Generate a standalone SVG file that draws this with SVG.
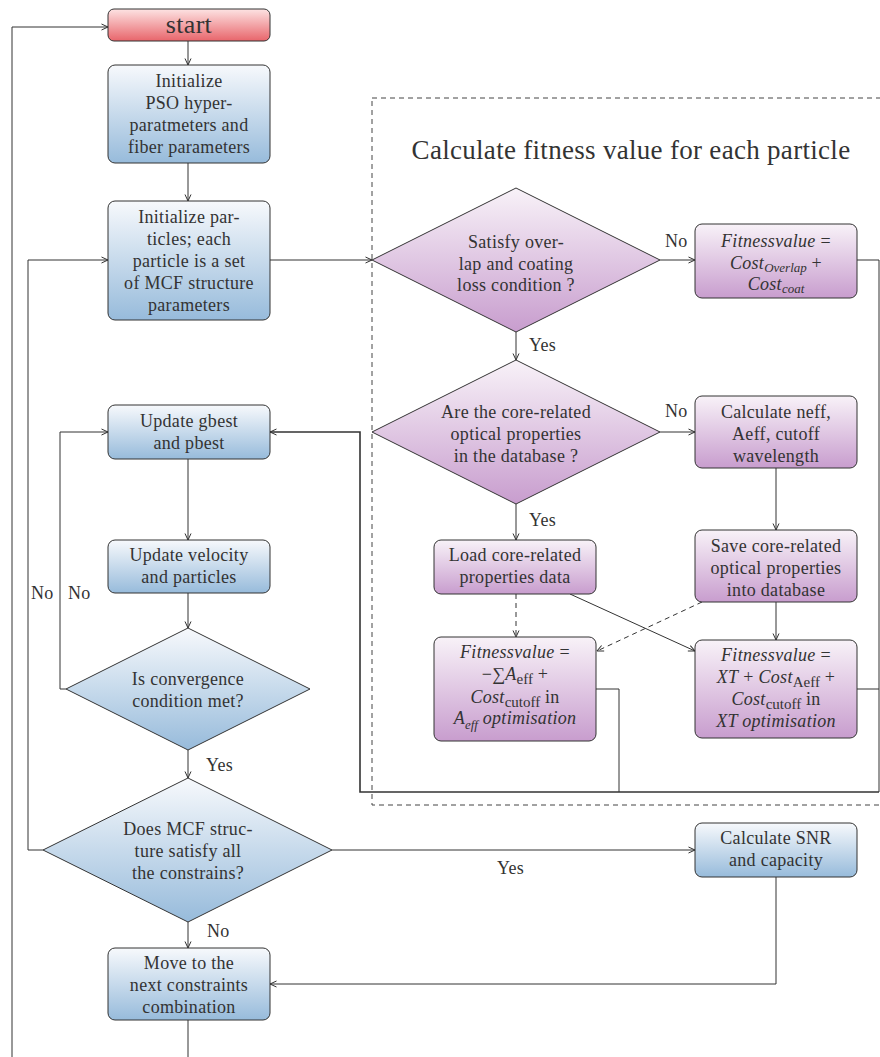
<svg xmlns="http://www.w3.org/2000/svg" width="880" height="1057" viewBox="0 0 880 1057">
<defs>
<linearGradient id="gBlue" x1="0" y1="0" x2="0" y2="1"><stop offset="0" stop-color="#f7f9fc"/><stop offset="1" stop-color="#97bbdb"/></linearGradient>
<linearGradient id="gPurple" x1="0" y1="0" x2="0" y2="1"><stop offset="0" stop-color="#f8f2f8"/><stop offset="1" stop-color="#c89dce"/></linearGradient>
<linearGradient id="gRed" x1="0" y1="0" x2="0" y2="1"><stop offset="0" stop-color="#fde3e3"/><stop offset="1" stop-color="#e8656b"/></linearGradient>
<marker id="arr" viewBox="0 0 8 8" refX="7.5" refY="4" markerWidth="8" markerHeight="8" markerUnits="userSpaceOnUse" orient="auto">
<path d="M1,1 L7.5,4 L1,7" fill="none" stroke="#333" stroke-width="1"/>
</marker>
<style>
.box{stroke:#333;stroke-width:1}
.c{fill:none;stroke:#333;stroke-width:1}
.ca{fill:none;stroke:#333;stroke-width:1;marker-end:url(#arr)}
</style>
</defs>
<g font-family="Times New Roman" font-size="18" text-anchor="middle" letter-spacing="0.3">
<rect x="372" y="98" width="530" height="707" fill="none" stroke="#444" stroke-width="1" stroke-dasharray="5,4"/>
<text font-family="Times New Roman" fill="#333" x="631" y="159" font-size="27">Calculate fitness value for each particle</text>

<g id="connectors">
<line class="ca" x1="188" y1="41" x2="188" y2="65"/>
<line class="ca" x1="188" y1="163" x2="188" y2="201"/>
<line class="ca" x1="270" y1="260" x2="372" y2="260"/>
<line class="ca" x1="660" y1="260" x2="695" y2="260"/>
<line class="ca" x1="516" y1="332" x2="516" y2="360"/>
<line class="ca" x1="660" y1="432" x2="695" y2="432"/>
<line class="ca" x1="776" y1="468" x2="776" y2="530"/>
<line class="ca" x1="516" y1="504" x2="516" y2="540"/>
<line class="ca" stroke-dasharray="5,4" x1="516" y1="594" x2="516" y2="637"/>
<line class="ca" x1="570" y1="594" x2="695" y2="651"/>
<line class="ca" stroke-dasharray="5,4" x1="702" y1="602" x2="597" y2="651"/>
<line class="ca" x1="776" y1="602" x2="776" y2="640"/>
<polyline class="c" points="857,260 879,260 879,792"/>
<polyline class="c" points="857,689 879,689"/>
<polyline class="c" points="596,689 619,689 619,792"/>
<polyline class="ca" style="stroke-width:1.6" points="879,792 360,792 360,432 270,432"/>
<line class="ca" x1="188" y1="459" x2="188" y2="540"/>
<line class="ca" x1="188" y1="593" x2="188" y2="628"/>
<line class="ca" x1="188" y1="750" x2="188" y2="778"/>
<polyline class="ca" points="66,689 60,689 60,432 108,432"/>
<polyline class="ca" points="43,850 28,850 28,260 108,260"/>
<line class="ca" x1="332" y1="850" x2="695" y2="850"/>
<polyline class="ca" points="776,877 776,984 270,984"/>
<line class="ca" x1="188" y1="922" x2="188" y2="948"/>
<line class="c" x1="188" y1="1020" x2="188" y2="1057"/>
<polyline class="ca" points="12,1057 12,27 108,27"/>
<g fill="#333" text-anchor="start">
<text font-family="Times New Roman" x="665" y="247">No</text>
<text font-family="Times New Roman" x="529" y="351">Yes</text>
<text font-family="Times New Roman" x="665" y="417">No</text>
<text font-family="Times New Roman" x="529" y="526">Yes</text>
<text font-family="Times New Roman" x="31" y="599">No</text>
<text font-family="Times New Roman" x="68" y="599">No</text>
<text font-family="Times New Roman" x="206" y="771">Yes</text>
<text font-family="Times New Roman" x="497" y="874">Yes</text>
<text font-family="Times New Roman" x="207" y="937">No</text>
</g>
</g>

<g id="start" fill="#333">
<rect class="box" fill="url(#gRed)" x="108" y="9" width="162" height="32" rx="6"/>
<text font-family="Times New Roman" x="189" y="33" font-size="26">start</text>
</g>

<g id="init-pso" fill="#333">
<rect class="box" fill="url(#gBlue)" x="108" y="65" width="162" height="98" rx="7"/>
<text font-family="Times New Roman" x="189" y="87">Initialize</text>
<text font-family="Times New Roman" x="189" y="109">PSO hyper-</text>
<text font-family="Times New Roman" x="189" y="131">paratmeters and</text>
<text font-family="Times New Roman" x="189" y="153">fiber parameters</text>
</g>

<g id="init-particles" fill="#333">
<rect class="box" fill="url(#gBlue)" x="108" y="201" width="162" height="119" rx="7"/>
<text font-family="Times New Roman" x="189" y="223">Initialize par-</text>
<text font-family="Times New Roman" x="189" y="245">ticles; each</text>
<text font-family="Times New Roman" x="189" y="267">particle is a set</text>
<text font-family="Times New Roman" x="189" y="289">of MCF structure</text>
<text font-family="Times New Roman" x="189" y="311">parameters</text>
</g>

<g id="d-overlap" fill="#333">
<polygon class="box" fill="url(#gPurple)" stroke-linejoin="round" points="516,188 660,260 516,332 372,260"/>
<text font-family="Times New Roman" x="516" y="248">Satisfy over-</text>
<text font-family="Times New Roman" x="516" y="270">lap and coating</text>
<text font-family="Times New Roman" x="516" y="291">loss condition ?</text>
</g>

<g id="fit-overlap" fill="#333">
<rect class="box" fill="url(#gPurple)" x="695" y="224" width="162" height="74" rx="7"/>
<text font-family="Times New Roman" x="776" y="247"><tspan font-style="italic">Fitnessvalue</tspan> =</text>
<text font-family="Times New Roman" x="776" y="269"><tspan font-style="italic">Cost</tspan><tspan font-style="italic" font-size="13" letter-spacing="0" dy="3">Overlap</tspan><tspan dy="-3"> +</tspan></text>
<text font-family="Times New Roman" x="776" y="290"><tspan font-style="italic">Cost</tspan><tspan font-style="italic" font-size="13" letter-spacing="0" dy="3">coat</tspan></text>
</g>

<g id="d-database" fill="#333">
<polygon class="box" fill="url(#gPurple)" stroke-linejoin="round" points="516,360 660,432 516,504 372,432"/>
<text font-family="Times New Roman" x="516" y="418">Are the core-related</text>
<text font-family="Times New Roman" x="516" y="440">optical properties</text>
<text font-family="Times New Roman" x="516" y="462">in the database ?</text>
</g>

<g id="calc-neff" fill="#333">
<rect class="box" fill="url(#gPurple)" x="695" y="396" width="162" height="72" rx="7"/>
<text font-family="Times New Roman" x="776" y="418">Calculate neff,</text>
<text font-family="Times New Roman" x="776" y="440">Aeff, cutoff</text>
<text font-family="Times New Roman" x="776" y="462">wavelength</text>
</g>

<g id="save-core" fill="#333">
<rect class="box" fill="url(#gPurple)" x="695" y="530" width="162" height="72" rx="7"/>
<text font-family="Times New Roman" x="776" y="552">Save core-related</text>
<text font-family="Times New Roman" x="776" y="574">optical properties</text>
<text font-family="Times New Roman" x="776" y="596">into database</text>
</g>

<g id="load-core" fill="#333">
<rect class="box" fill="url(#gPurple)" x="434" y="540" width="162" height="54" rx="7"/>
<text font-family="Times New Roman" x="515" y="561">Load core-related</text>
<text font-family="Times New Roman" x="515" y="583">properties data</text>
</g>

<g id="fit-aeff" fill="#333">
<rect class="box" fill="url(#gPurple)" x="434" y="637" width="162" height="104" rx="7"/>
<text font-family="Times New Roman" x="515" y="658"><tspan font-style="italic">Fitnessvalue</tspan> =</text>
<text font-family="Times New Roman" x="515" y="680">−∑<tspan font-style="italic">A</tspan><tspan font-size="15" letter-spacing="0" dy="4">eff</tspan><tspan dy="-4"> +</tspan></text>
<text font-family="Times New Roman" x="515" y="703"><tspan font-style="italic">Cost</tspan><tspan font-size="15" letter-spacing="0" dy="4">cutoff</tspan><tspan dy="-4"> in</tspan></text>
<text font-family="Times New Roman" x="515" y="724"><tspan font-style="italic">A</tspan><tspan font-style="italic" font-size="13" letter-spacing="0" dy="5">eff</tspan><tspan font-style="italic" dy="-5"> optimisation</tspan></text>
</g>

<g id="fit-xt" fill="#333">
<rect class="box" fill="url(#gPurple)" x="695" y="640" width="162" height="98" rx="7"/>
<text font-family="Times New Roman" x="776" y="661"><tspan font-style="italic">Fitnessvalue</tspan> =</text>
<text font-family="Times New Roman" x="776" y="683"><tspan font-style="italic">XT</tspan> + <tspan font-style="italic">Cost</tspan><tspan font-size="15" letter-spacing="0" dy="4">Aeff</tspan><tspan dy="-4"> +</tspan></text>
<text font-family="Times New Roman" x="776" y="705"><tspan font-style="italic">Cost</tspan><tspan font-size="15" letter-spacing="0" dy="4">cutoff</tspan><tspan dy="-4"> in</tspan></text>
<text font-family="Times New Roman" x="776" y="727" font-style="italic">XT optimisation</text>
</g>

<g id="update-gbest" fill="#333">
<rect class="box" fill="url(#gBlue)" x="108" y="405" width="162" height="54" rx="7"/>
<text font-family="Times New Roman" x="189" y="427">Update gbest</text>
<text font-family="Times New Roman" x="189" y="449">and pbest</text>
</g>

<g id="update-velocity" fill="#333">
<rect class="box" fill="url(#gBlue)" x="108" y="540" width="162" height="53" rx="7"/>
<text font-family="Times New Roman" x="189" y="561">Update velocity</text>
<text font-family="Times New Roman" x="189" y="583">and particles</text>
</g>

<g id="d-convergence" fill="#333">
<polygon class="box" fill="url(#gBlue)" stroke-linejoin="round" points="188,628 310,689 188,750 66,689"/>
<text font-family="Times New Roman" x="188" y="685">Is convergence</text>
<text font-family="Times New Roman" x="188" y="707">condition met?</text>
</g>

<g id="d-constraints" fill="#333">
<polygon class="box" fill="url(#gBlue)" stroke-linejoin="round" points="188,778 332,850 188,922 43,850"/>
<text font-family="Times New Roman" x="188" y="835">Does MCF struc-</text>
<text font-family="Times New Roman" x="188" y="857">ture satisfy all</text>
<text font-family="Times New Roman" x="188" y="879">the constrains?</text>
</g>

<g id="calc-snr" fill="#333">
<rect class="box" fill="url(#gBlue)" x="695" y="823" width="162" height="54" rx="7"/>
<text font-family="Times New Roman" x="776" y="844">Calculate SNR</text>
<text font-family="Times New Roman" x="776" y="866">and capacity</text>
</g>

<g id="move-next" fill="#333">
<rect class="box" fill="url(#gBlue)" x="108" y="948" width="162" height="72" rx="7"/>
<text font-family="Times New Roman" x="189" y="969">Move to the</text>
<text font-family="Times New Roman" x="189" y="991">next constraints</text>
<text font-family="Times New Roman" x="189" y="1013">combination</text>
</g>
</g>
</svg>
